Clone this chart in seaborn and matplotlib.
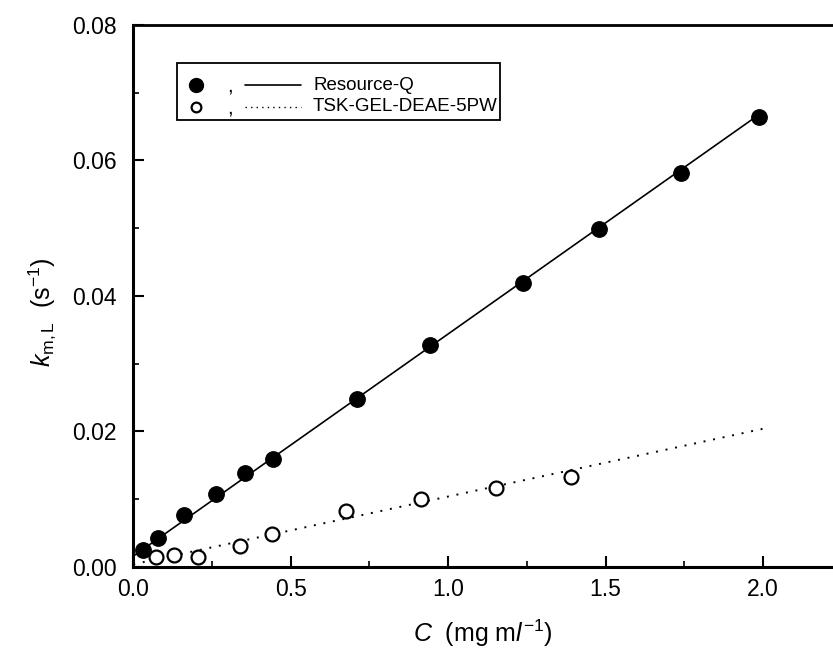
import numpy as np
import pandas as pd
import matplotlib
matplotlib.use("Agg")
import matplotlib.pyplot as plt
import seaborn as sns
from matplotlib.patches import Rectangle
from matplotlib.ticker import MultipleLocator

# Data
rq_c = [0.03, 0.08, 0.162, 0.264, 0.354, 0.443, 0.71, 0.943, 1.236, 1.48, 1.739, 1.987]
rq_k = [0.0025, 0.0043, 0.0076, 0.0108, 0.0139, 0.0160, 0.0248, 0.0328, 0.0419, 0.0499, 0.0581, 0.0664]
tsk_c = [0.073, 0.13, 0.204, 0.338, 0.44, 0.675, 0.914, 1.153, 1.389]
tsk_k = [0.0015, 0.0018, 0.0015, 0.0031, 0.0048, 0.0082, 0.0100, 0.0117, 0.0133]
rq_fit_c = [0.0, 2.0]
rq_fit_k = [0.0016, 0.0672]
tsk_fit_c = [0.0, 2.0]
tsk_fit_k = [0.0004, 0.0204]
series_names = ["Resource-Q", "TSK-GEL-DEAE-5PW"]
xticks = [0.0, 0.5, 1.0, 1.5, 2.0]
yticks = [0.00, 0.02, 0.04, 0.06, 0.08]

sns.set_theme(style="ticks")
plt.rcParams["font.family"] = ["Liberation Sans", "DejaVu Sans"]
plt.rcParams["mathtext.fontset"] = "custom"
plt.rcParams["mathtext.rm"] = "Liberation Sans"
plt.rcParams["mathtext.it"] = "Liberation Sans:italic"
plt.rcParams["text.color"] = "black"
plt.rcParams["axes.labelcolor"] = "black"
plt.rcParams["xtick.color"] = "black"
plt.rcParams["ytick.color"] = "black"
plt.rcParams["axes.edgecolor"] = "black"

fig = plt.figure(figsize=(8.33, 6.56), dpi=100)
ax = fig.add_axes([0.16, 0.1357, 0.84, 0.8262])

df_rq = pd.DataFrame({"C": rq_c, "k": rq_k})
df_tsk = pd.DataFrame({"C": tsk_c, "k": tsk_k})
df_rq_fit = pd.DataFrame({"C": rq_fit_c, "k": rq_fit_k})
df_tsk_fit = pd.DataFrame({"C": tsk_fit_c, "k": tsk_fit_k})

sns.lineplot(data=df_rq_fit, x="C", y="k", ax=ax, color="black", lw=1.2)
sns.lineplot(data=df_tsk_fit, x="C", y="k", ax=ax, color="black", lw=1.4,
             linestyle=(0, (1, 4)))
sns.scatterplot(data=df_rq, x="C", y="k", ax=ax, s=125, color="black",
                edgecolor="black", zorder=5)
sns.scatterplot(data=df_tsk, x="C", y="k", ax=ax, s=100, facecolor="white",
                edgecolor="black", linewidth=1.6, zorder=5)

ax.set_xlim(0, 2.222)
ax.set_ylim(0, 0.08)
ax.set_xticks(xticks)
ax.set_xticklabels([f"{t:.1f}" for t in xticks])
ax.set_yticks(yticks)
ax.set_yticklabels([f"{t:.2f}" for t in yticks])
ax.xaxis.set_minor_locator(MultipleLocator(0.25))
ax.yaxis.set_minor_locator(MultipleLocator(0.01))
ax.tick_params(which="major", direction="in", length=8, width=1.5, labelsize=16.5)
ax.tick_params(axis="y", which="major", pad=12)
ax.tick_params(axis="x", which="major", pad=8)
ax.tick_params(which="minor", direction="in", length=4, width=1.2)
ax.tick_params(top=False, right=False, which="both")
for s in ["left", "bottom"]:
    ax.spines[s].set_linewidth(2.2)
ax.spines["top"].set_linewidth(2.0)
ax.spines["right"].set_visible(False)

ax.set_xlabel(r"$C$  (mg m$l^{-1}$)", fontsize=18, labelpad=12)
ax.set_ylabel(r"$k_{\mathrm{m,L}}$  (s$^{-1}$)", fontsize=18)
ax.yaxis.set_label_coords(-0.108, 0.47)

# manual legend
ax.add_patch(Rectangle((0.063, 0.825), 0.461, 0.105, transform=ax.transAxes,
                       facecolor="white", edgecolor="black", lw=1.3, zorder=6))
rows = [0.889, 0.849]
ax.plot([0.09], [rows[0]], "o", transform=ax.transAxes, ms=10, color="black", zorder=7)
ax.plot([0.09], [rows[1]], "o", transform=ax.transAxes, ms=7, mfc="white",
        mec="black", mew=1.6, zorder=7)
ax.plot([0.16, 0.24], [rows[0], rows[0]], "-", transform=ax.transAxes, color="black",
        lw=1.2, zorder=7)
ax.plot([0.16, 0.24], [rows[1], rows[1]], transform=ax.transAxes, color="black",
        lw=1.0, linestyle=(0, (1, 3)), zorder=7)
for r, name in zip(rows, series_names):
    ax.text(0.138, r - 0.012, ",", transform=ax.transAxes, fontsize=15,
            ha="center", va="baseline", zorder=7)
    ax.text(0.257, r, name, transform=ax.transAxes, fontsize=13.5,
            ha="left", va="center", zorder=7)

fig.savefig("out.png", dpi=100)
